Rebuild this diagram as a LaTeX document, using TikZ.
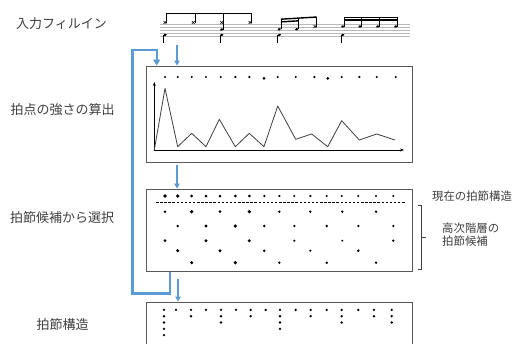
\documentclass[tikz,border=0pt]{standalone}
\usepackage{fontspec}
\setmainfont{Noto Sans CJK JP}
\usetikzlibrary{arrows.meta}
\definecolor{txt}{HTML}{404040}
\definecolor{frame}{HTML}{595959}
\definecolor{fb}{HTML}{5B9BD5}
\newcommand\mynote[2]{\fill[rotate around={20:(#1,#2)}] (#1,#2) ellipse (1.9pt and 1.3pt);}
\newcommand\myx[2]{\draw[line width=0.6pt] ({#1-1.5},{#2-1.5}) -- ({#1+1.5},{#2+1.5}) ({#1-1.5},{#2+1.5}) -- ({#1+1.5},{#2-1.5});}
\begin{document}
\begin{tikzpicture}[x=1pt,y=-1pt,
  lbl/.style={font=\fontsize{13}{15}\selectfont, text=txt, inner sep=0},
  rlbl/.style={font=\fontsize{11.4}{13}\selectfont, text=txt, inner sep=0, align=left},
  panel/.style={draw=frame, line width=1pt, minimum width=266pt, inner sep=0, rectangle},
  fbline/.style={draw=fb, line width=2.4pt, -{Triangle[length=6pt,width=7pt]}},
  flow/.style={draw=fb, line width=1.2pt, -{Triangle[length=5pt,width=5.5pt]}},
  staff/.style={draw=gray!55, line width=0.4pt},
  stem/.style={line width=0.5pt},
  beam/.style={line width=1.4pt},
  curve/.style={draw=txt, line width=0.8pt, line join=round},
  axis/.style={draw=black, line width=0.7pt, -{Stealth[length=4pt,width=3pt]}},
  brace/.style={draw=txt, line width=0.7pt},
  dot/.style={fill=black}
]
\clip (0,0) rectangle (516,343);
\fill[white] (0,0) rectangle (516,343);

% left labels
\node[lbl] (lin)  at (61.5,24)  {入力フィルイン};
\node[lbl] (lstr) at (62.5,110) {拍点の強さの算出};
\node[lbl] (lsel) at (62,218)   {拍節候補から選択};
\node[lbl] (lres) at (62.5,325) {拍節構造};

% panels
\node[panel, minimum height=96pt] (strength) at (279.5,114) {};
\node[panel, minimum height=82pt] (select) at (279,230) {};
\node[panel, minimum height=50pt] (result) at (279,327) {};

% score
\foreach \k in {0,...,4} \draw[staff] (160,{24.5+3*\k}) -- (410,{24.5+3*\k});
% group 1
\myx{165}{22.5} \myx{193.3}{22.5} \myx{221.7}{22.5} \myx{250}{22.5}
\mynote{221.7}{29.5}
\mynote{165}{35} \mynote{221.7}{35}
\draw[stem] (166.5,22.5) -- (166.5,13.3) (194.8,22.5) -- (194.8,13.3)
  (223.4,29.5) -- (223.4,13.3) (251.5,22.5) -- (251.5,13.3)
  (163.3,35) -- (163.3,43) (220,35) -- (220,43);
\draw[beam] (166.2,13.3) -- (251.8,13.3);
% group 2
\mynote{279.3}{29.3} \mynote{296.7}{29.3} \myx{315}{26.5}
\mynote{279.3}{35}
\draw[stem] (281,29.3) -- (281,19.2) (298.4,29.3) -- (298.4,18.1) (316.5,26.5) -- (316.5,17)
  (277.6,35) -- (277.6,42.5);
\draw[beam] (280.8,19.2) -- (316.7,17);
\draw[beam] (280.8,21.9) -- (298.6,20.8);
% group 3
\foreach \nx in {342.7,360,377.7,395.7} {
  \mynote{\nx}{26.5}
  \draw[stem] ({\nx+1.7},26.5) -- ({\nx+1.7},16.7);
}
\mynote{342.7}{35}
\draw[stem] (341,35) -- (341,42.5);
\draw[beam] (344.2,17.3) -- (397.6,17.3);
\draw[beam] (344.2,20.1) -- (397.6,20.1);
\coordinate (score) at (177,45);

% strength panel
\foreach \x/\y/\r in {165/77/1.2,177.7/77/1.2,191.7/77/1.2,206/77/1.2,220.7/77/1.2,235.3/77/1.2,
  249.3/77/1.2,264/78.3/1.5,277.7/77/1.2,295.7/77/1.2,314.3/77/1.2,327.7/78.3/1.5,341.7/77/1.2,
  359.3/77/1.2,376.7/77/1.2,395.7/77/1.2}
  \fill[dot] (\x,\y) circle (\r pt);
\coordinate (origin) at (154.3,150);
\draw[axis] (origin) -- (154.3,82);
\draw[axis] (origin) -- (404,150);
\draw[curve] (origin) -- (165,88.3) -- (177.7,146.7) -- (191.7,133.3) -- (206,146.7)
  -- (219.3,119.3) -- (235.3,146.7) -- (249.3,133.3) -- (264,146.7) -- (277.7,106)
  -- (295.7,139.3) -- (311.7,134) -- (327.7,146.7) -- (341.7,120.7) -- (359.3,140)
  -- (376.7,134) -- (395,140);

% select panel
\foreach \x/\r in {165/1.8,177.7/1.8,191.7/1.5,206/1.5,220/1.5,235.3/1.5,249.3/1.5,264.3/1.2,
  279.3/1.2,294.3/1.1,310.3/1.2,326.7/1.2,341.7/1.2,358.3/1.1,376/1.1,393.3/1.1}
  \fill[dot] (\x,196) circle (\r pt);
\draw[draw=black, line width=0.7pt, dash pattern=on 2.5pt off 1.6pt] (156,202.3) -- (405,202.3);
\foreach \x/\r in {165/1.3,191.7/1.8,220/1.5,249.3/1.8,279.3/1.3,310.3/1.3,342.3/1.3,376/1.3}
  \fill[dot] (\x,211.7) circle (\r pt);
\foreach \x/\r in {177.7/1.3,206/1.6,235.3/1.8,264.3/1.4,294.3/1.3,326.7/1.4,358.3/1.3,393.3/1.3}
  \fill[dot] (\x,226) circle (\r pt);
\foreach \x/\r in {165/1.5,206/1.6,249.3/1.6,294.3/1.2,342.3/1.1,393.3/1.3}
  \fill[dot] (\x,240.7) circle (\r pt);
\foreach \x/\r in {177.7/1.7,220/1.7,264.3/1.4,310.3/1.2,358.3/1.4}
  \fill[dot] (\x,250.7) circle (\r pt);
\foreach \x/\r in {191.7/1.7,235.3/1.8,279.3/1.3,326.7/1.4,376/1.3}
  \fill[dot] (\x,262.7) circle (\r pt);

% result panel
\foreach \x/\n in {164/5,176/1,191/2,206/1,221/3,236/1,250.7/2,265.7/1,280/4,295.7/1,
  310.7/2,326.7/1,341.7/3,358.3/1,374/2,391.7/3}
  \foreach \k in {1,...,\n} \fill[dot] (\x,{303.6+6.3*\k}) circle (1.3pt);

% right labels and brace
\node[rlbl] (cur) at (472,196) {現在の拍節構造};
\node[rlbl, anchor=west] (cand) at (442,234.5) {高次階層の\\拍節候補};
\coordinate (bt) at (418.3,205);
\coordinate (bb) at (418.3,269);
\draw[brace] (bt) -- (421.7,205) -- (421.7,269) -- (bb);
\coordinate (bm) at (421.7,237);
\draw[brace] (bm) -- (426,237);

% flow arrows
\draw[flow] (score) -- (score |- strength.north);
\coordinate (a2) at (177,165);
\draw[flow] (a2) -- (a2 |- select.north);
\coordinate (a3) at (178,279);
\draw[flow] (a3) -- (a3 |- result.north);

% feedback loop
\coordinate (fbs) at (170,271);
\coordinate (fbe) at (156.7,50);
\draw[fbline] (fbs |- select.south) -- (170,293.3) -- (132.3,293.3) -- (132.3,50) -- (fbe)
  -- (fbe |- strength.north);
\end{tikzpicture}
\end{document}
